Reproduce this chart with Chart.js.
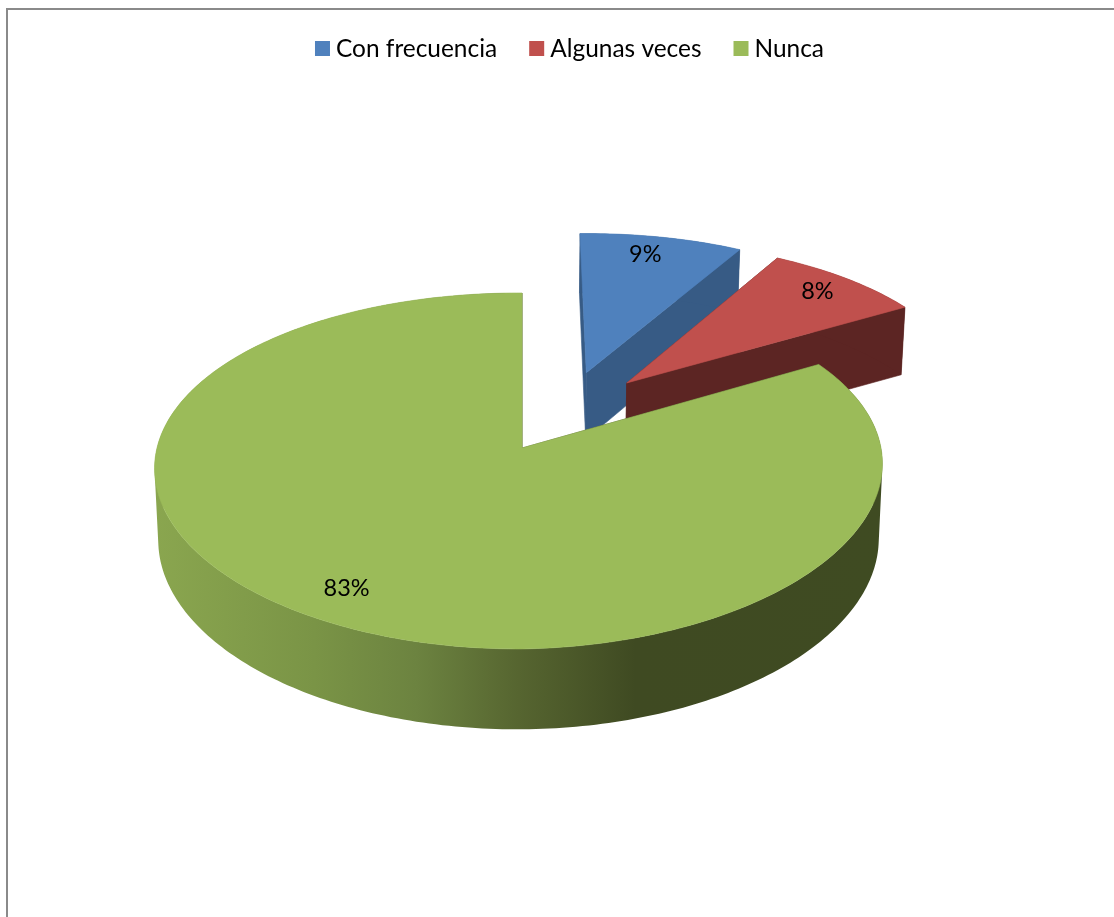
<!DOCTYPE html>
<html>
<head>
<meta charset="utf-8">
<title>Pie</title>
<script src="https://cdn.jsdelivr.net/npm/chart.js@4"></script>
<style>
  html, body { margin: 0; background: #fff; overflow: hidden; }
  #frame { position: absolute; left: 6px; top: 8px; right: 0; bottom: 0; border-left: 2px solid #8a8a8a; border-top: 2px solid #8a8a8a; }
  #myChart { position: absolute; left: 0; top: 0; }
</style>
</head>
<body>
<div id="frame"></div>
<canvas id="myChart" width="1114" height="917"></canvas>
<script>
const categories = ['Con frecuencia', 'Algunas veces', 'Nunca']
// slice sizes, the labels show them rounded
const percentages = [8.5, 8.4, 83.1]
const explosions = [180, 180, 0]
const topColors = ['#4F81BD', '#C0504D', '#9BBB59']
const sideColors = ['#375B85', '#5C2523', null]

// perspective of the tilted pie, unit circle -> screen
const view = { x0: 522, y0: 448, a: 361.5, b: 175, p: 0.129, px: 0.114, q: -0.0096, roll: 4.5, depth: 70, shrink: 0.99 }
const explodeSpread = 0.52
const labelRadius = [0.86, 0.87, 0.84]
const labelNudge = [-7, -3, -7]
const legendFont = '24.45px Lato'
const labelFont = '23.5px Lato'

const project = (u, v, bottom) => {
  const w = 1 - view.p * v - view.q * u
  const wx = 1 - view.px * v - view.q * u
  let x = view.x0 + view.a * u / wx
  let y = view.y0 + view.b * v / w
  if (bottom) {
    x = view.x0 + (x - view.x0) * view.shrink
    y += view.depth / w
  } else {
    y -= view.roll * Math.max(u, 0)
  }
  return [x, y]
}

const addPolygon = (ctx, points) => {
  points.forEach((p, i) => i ? ctx.lineTo(p[0], p[1]) : ctx.moveTo(p[0], p[1]))
  ctx.closePath()
}

const paint = (ctx, points, color) => {
  ctx.beginPath()
  addPolygon(ctx, points)
  ctx.fillStyle = color
  ctx.strokeStyle = color
  ctx.lineWidth = 0.6
  ctx.fill()
  ctx.stroke()
}

// outer wall as one path of same-wound quads, so no seams show in the gradient
const paintWall = (ctx, top, low, color) => {
  ctx.beginPath()
  for (let k = 0; k < top.length - 1; k++) {
    const quad = [top[k], top[k + 1], low[k + 1], low[k]]
    let area = 0
    quad.forEach((p, i) => {
      const n = quad[(i + 1) % 4]
      area += p[0] * n[1] - n[0] * p[1]
    })
    addPolygon(ctx, area < 0 ? quad.reverse() : quad)
  }
  ctx.fillStyle = color
  ctx.fill()
}

// reads each slice from the arc elements chart.js laid out
const sliceGeometry = (chart) => {
  const arcs = chart.getDatasetMeta(0).data
  const exploded = arcs.filter(arc => arc.options.offset > 0)
  const groupMid = (exploded[0].startAngle + exploded[exploded.length - 1].endAngle) / 2
  return arcs.map(arc => {
    const mid = (arc.startAngle + arc.endAngle) / 2
    const dir = groupMid + (mid - groupMid) * explodeSpread
    const shift = arc.options.offset / arc.outerRadius
    return {
      start: arc.startAngle,
      end: arc.endAngle,
      mid,
      ou: Math.cos(dir) * shift,
      ov: Math.sin(dir) * shift
    }
  })
}

const rimPoints = (s, bottom) => {
  const pts = []
  const steps = Math.ceil((s.end - s.start) * 60)
  for (let i = 0; i <= steps; i++) {
    const a = s.start + (s.end - s.start) * i / steps
    pts.push(project(s.ou + Math.cos(a), s.ov + Math.sin(a), bottom))
  }
  return pts
}

const sideGradient = (ctx) => {
  const g = ctx.createLinearGradient(154, 0, 883, 0)
  g.addColorStop(0, '#8AA64F')
  g.addColorStop(0.22, '#7A9446')
  g.addColorStop(0.36, '#6C8340')
  g.addColorStop(0.5, '#566530')
  g.addColorStop(0.66, '#3F4A22')
  g.addColorStop(1, '#3F4B22')
  return g
}

const pie3d = {
  id: 'pie3d',
  beforeDatasetsDraw(chart) {
    const ctx = chart.ctx
    sliceGeometry(chart).forEach((s, i) => {
      const side = sideColors[i] || sideGradient(ctx)
      const top = rimPoints(s, false)
      const low = rimPoints(s, true)
      const apexTop = project(s.ou, s.ov, false)
      const apexLow = project(s.ou, s.ov, true)
      paint(ctx, [apexTop, top[0], low[0], apexLow], side)
      paint(ctx, [apexTop, top[top.length - 1], low[low.length - 1], apexLow], side)
      paintWall(ctx, top, low, side)
      paint(ctx, [apexTop].concat(top), topColors[i])
    })
    return false
  },
  afterDraw(chart) {
    const ctx = chart.ctx
    ctx.save()
    ctx.textBaseline = 'middle'
    ctx.fillStyle = '#000'

    ctx.font = labelFont
    ctx.textAlign = 'center'
    sliceGeometry(chart).forEach((s, i) => {
      const r = labelRadius[i]
      const pos = project(s.ou + Math.cos(s.mid) * r, s.ov + Math.sin(s.mid) * r, false)
      ctx.fillText(Math.round(percentages[i]) + '%', pos[0] + labelNudge[i], pos[1])
    })

    // legend row, tighter swatch gap than the built-in one
    ctx.font = legendFont
    ctx.textAlign = 'left'
    const swatch = 15, gap = 6, between = 32
    const widths = categories.map(c => ctx.measureText(c).width)
    const total = widths.reduce((a, b) => a + b + swatch + gap, 0) + between * (categories.length - 1)
    let x = 569.5 - total / 2
    categories.forEach((c, i) => {
      ctx.fillStyle = topColors[i]
      ctx.fillRect(x, 41, swatch, swatch)
      ctx.fillStyle = '#000'
      ctx.fillText(c, x + swatch + gap, 49)
      x += swatch + gap + widths[i] + between
    })
    ctx.restore()
  }
}

new Chart(document.getElementById('myChart'), {
  type: 'pie',
  data: {
    labels: categories,
    datasets: [{
      data: percentages,
      backgroundColor: topColors,
      offset: explosions,
      borderWidth: 0
    }]
  },
  options: {
    responsive: false,
    animation: false,
    plugins: { legend: { display: false }, tooltip: { enabled: false } }
  },
  plugins: [pie3d]
})
</script>
</body>
</html>
